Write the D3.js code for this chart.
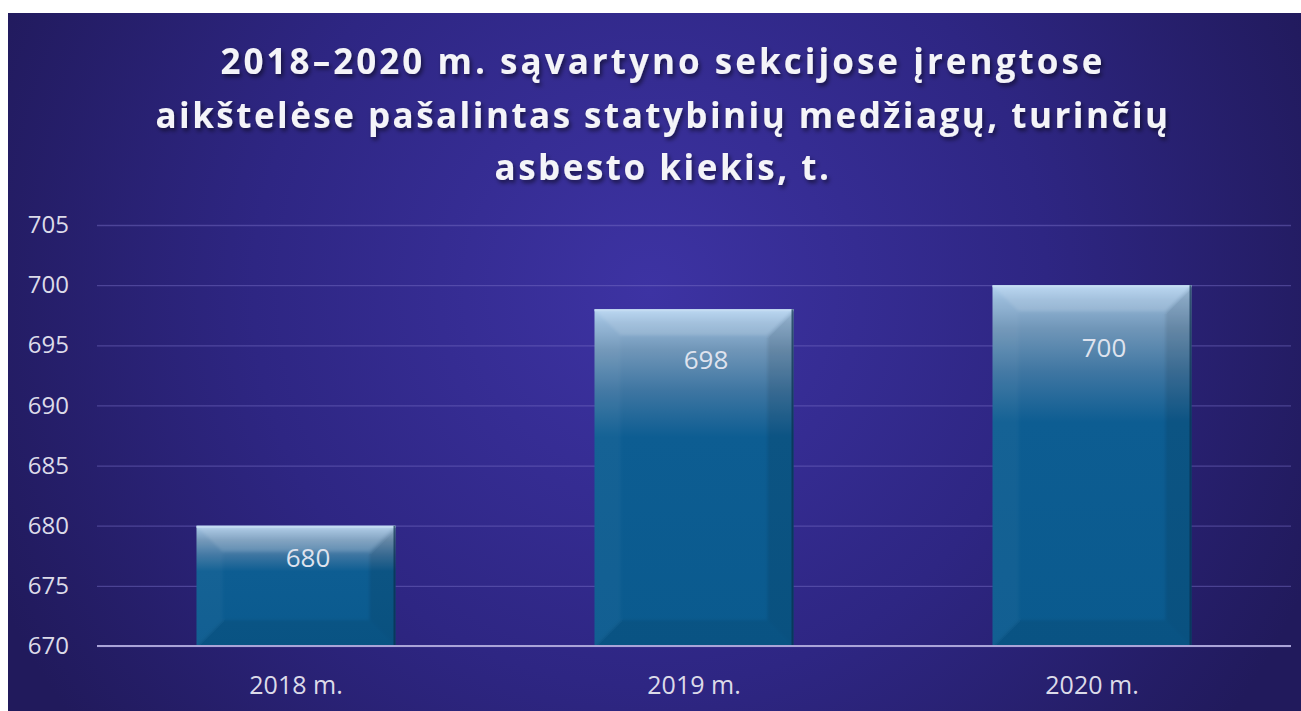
<!DOCTYPE html>
<html>
<head>
<meta charset="utf-8">
<script src="https://cdn.jsdelivr.net/npm/d3@7"></script>
<style>
  html, body { margin: 0; padding: 0; background: #fff; }
  svg { display: block; }
</style>
</head>
<body>
<script>
// data
var categories = ["2018 m.", "2019 m.", "2020 m."];
var values = [680, 698, 700];
var yTicks = [670, 675, 680, 685, 690, 695, 700, 705];
var titleLines = [
  "2018–2020 m. sąvartyno sekcijose įrengtose",
  "aikštelėse pašalintas statybinių medžiagų, turinčių",
  "asbesto kiekis, t."
];

var width = 1301, height = 711;
var margin = { top: 225, right: 10, bottom: 65, left: 97 };

var svg = d3.select("body").append("svg")
  .attr("width", width)
  .attr("height", height);

var defs = svg.append("defs");

// background
var bg = defs.append("radialGradient")
  .attr("id", "bg")
  .attr("gradientUnits", "userSpaceOnUse")
  .attr("cx", 650).attr("cy", 290).attr("r", 720);
bg.append("stop").attr("offset", "0").attr("stop-color", "#3d33a3");
bg.append("stop").attr("offset", "0.55").attr("stop-color", "#2e2683");
bg.append("stop").attr("offset", "1").attr("stop-color", "#211a5c");

svg.append("rect")
  .attr("x", 8).attr("y", 13)
  .attr("width", width - 8).attr("height", height - 13)
  .attr("fill", "url(#bg)");

// bar gradient
var bar = defs.append("linearGradient")
  .attr("id", "barFill")
  .attr("x1", 0).attr("y1", 0).attr("x2", 0).attr("y2", 1);
bar.append("stop").attr("offset", "0").attr("stop-color", "#b2d2f0");
bar.append("stop").attr("offset", "0.04").attr("stop-color", "#96b8d8");
bar.append("stop").attr("offset", "0.12").attr("stop-color", "#7096b8");
bar.append("stop").attr("offset", "0.24").attr("stop-color", "#3f76a2");
bar.append("stop").attr("offset", "0.38").attr("stop-color", "#0d5d92");
bar.append("stop").attr("offset", "1").attr("stop-color", "#0a5a8e");

var shadow = defs.append("filter").attr("id", "tshadow")
  .attr("x", "-5%").attr("y", "-20%").attr("width", "110%").attr("height", "150%");
shadow.append("feDropShadow")
  .attr("dx", 2).attr("dy", 3).attr("stdDeviation", 2)
  .attr("flood-color", "#000").attr("flood-opacity", 0.5);

var soft = defs.append("filter").attr("id", "soft")
  .attr("x", "-10%").attr("y", "-10%").attr("width", "120%").attr("height", "120%");
soft.append("feGaussianBlur").attr("stdDeviation", 1.6);

// scales
var x = d3.scaleBand()
  .domain(categories)
  .range([margin.left, width - margin.right])
  .paddingInner(0.5)
  .paddingOuter(0.25);

var y = d3.scaleLinear()
  .domain([670, 705])
  .range([height - margin.bottom, margin.top]);

// grid
var yAxis = d3.axisLeft(y)
  .tickValues(yTicks)
  .tickSize(-(width - margin.right - margin.left))
  .tickPadding(28)
  .tickFormat(d3.format("d"));

var gy = svg.append("g")
  .attr("transform", "translate(" + margin.left + ",0)")
  .call(yAxis);
gy.select(".domain").remove();
gy.selectAll(".tick line")
  .attr("stroke", "#7a72c8")
  .attr("stroke-opacity", 0.45)
  .attr("stroke-width", 1.3);
gy.selectAll(".tick text")
  .attr("fill", "#dcdbe9")
  .style("font-family", "'Open Sans', sans-serif")
  .style("font-size", "24px");

// bars
var bev = 26;
var gb = svg.append("g");
values.forEach(function(v, i) {
  var x0 = x(categories[i]), w = x.bandwidth();
  var y0 = y(v), y1 = y(670), h = y1 - y0;
  defs.append("clipPath").attr("id", "clip" + i)
    .append("rect").attr("x", x0).attr("y", y0).attr("width", w).attr("height", h);
  var g = gb.append("g");
  g.append("rect")
    .attr("x", x0).attr("y", y0).attr("width", w).attr("height", h)
    .attr("fill", "url(#barFill)");
  var b = Math.min(bev, h / 2);
  var gv = g.append("g").attr("clip-path", "url(#clip" + i + ")")
    .append("g").attr("filter", "url(#soft)");
  // top bevel
  gv.append("polygon")
    .attr("points", [[x0 - 4, y0 - 4], [x0 + w + 4, y0 - 4], [x0 + w - b, y0 + b], [x0 + b, y0 + b]].join(" "))
    .attr("fill", "#ffffff").attr("fill-opacity", 0.13);
  // left bevel
  gv.append("polygon")
    .attr("points", [[x0 - 4, y0 - 4], [x0 + b, y0 + b], [x0 + b, y1 - b], [x0 - 4, y1 + 4]].join(" "))
    .attr("fill", "#ffffff").attr("fill-opacity", 0.03);
  // right bevel
  gv.append("polygon")
    .attr("points", [[x0 + w + 4, y0 - 4], [x0 + w - b, y0 + b], [x0 + w - b, y1 - b], [x0 + w + 4, y1 + 4]].join(" "))
    .attr("fill", "#000000").attr("fill-opacity", 0.1);
  // bottom bevel
  gv.append("polygon")
    .attr("points", [[x0 - 4, y1 + 4], [x0 + b, y1 - b], [x0 + w - b, y1 - b], [x0 + w + 4, y1 + 4]].join(" "))
    .attr("fill", "#000000").attr("fill-opacity", 0.08);
  // edges
  g.append("line")
    .attr("x1", x0).attr("x2", x0 + w).attr("y1", y0 + 1).attr("y2", y0 + 1)
    .attr("stroke", "#c4dcf2").attr("stroke-width", 2);
  g.append("line")
    .attr("x1", x0 + w - 1).attr("x2", x0 + w - 1).attr("y1", y0).attr("y2", y1)
    .attr("stroke", "#0a2d4d").attr("stroke-width", 2).attr("stroke-opacity", 0.7);
});

// value labels
var labelDy = [32, 51, 63];
svg.append("g").selectAll("text")
  .data(values)
  .join("text")
  .attr("x", function(d, i) { return x(categories[i]) + x.bandwidth() / 2 + 12; })
  .attr("y", function(d, i) { return y(d) + labelDy[i]; })
  .attr("dy", "0.35em")
  .attr("text-anchor", "middle")
  .attr("fill", "#dfe3ee")
  .style("font-family", "'Open Sans', sans-serif")
  .style("font-size", "26px")
  .text(function(d) { return d; });

// baseline
svg.append("line")
  .attr("x1", margin.left).attr("x2", width - margin.right)
  .attr("y1", y(670)).attr("y2", y(670))
  .attr("stroke", "#aaa4d8").attr("stroke-width", 2);

// x labels
var xAxis = d3.axisBottom(x).tickSize(0).tickPadding(30);
var gx = svg.append("g")
  .attr("transform", "translate(0," + y(670) + ")")
  .call(xAxis);
gx.select(".domain").remove();
gx.selectAll("text")
  .attr("fill", "#dcdbe9")
  .style("font-family", "'Open Sans', sans-serif")
  .style("font-size", "25px");

// title
var titleW = [885, 1015, 337];
var titleY = [62, 116, 168];
var tg = svg.append("g").attr("filter", "url(#tshadow)");
titleLines.forEach(function(t, i) {
  var tx = tg.append("text")
    .attr("x", 663).attr("y", titleY[i])
    .attr("dy", "0.35em")
    .attr("text-anchor", "middle")
    .attr("fill", "#f4f4f8")
    .style("font-family", "'Open Sans', sans-serif")
    .style("font-weight", 700)
    .style("font-size", "35px")
    .text(t);
  var len = tx.node().getComputedTextLength();
  var ls = (titleW[i] - len) / t.length;
  tx.style("letter-spacing", ls.toFixed(2) + "px");
});
</script>
</body>
</html>
